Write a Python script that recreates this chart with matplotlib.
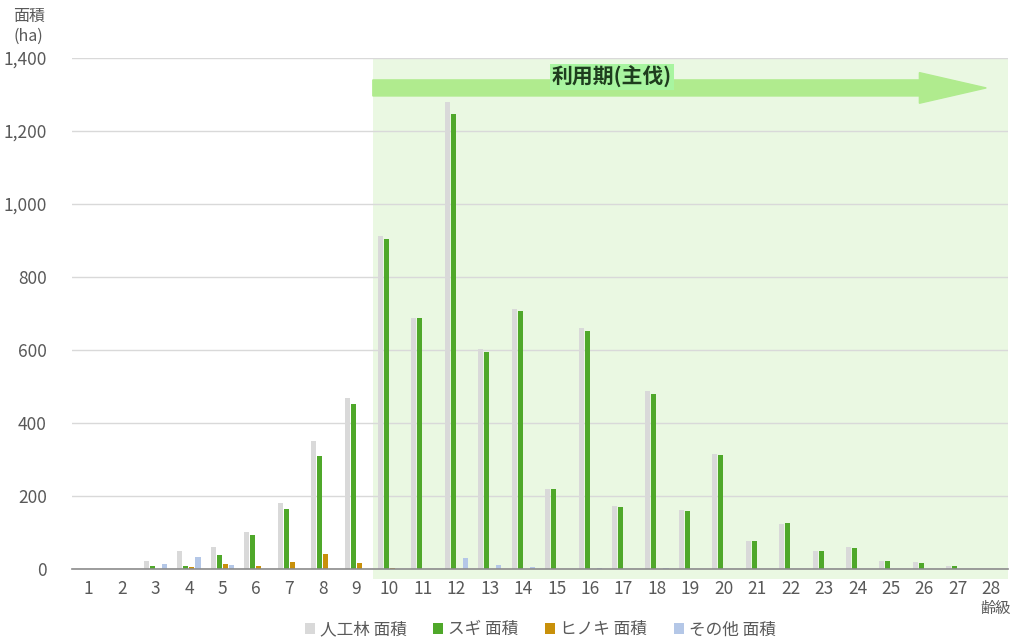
import matplotlib.pyplot as plt
import numpy as np
from matplotlib.patches import Rectangle, FancyArrow

plt.rcParams['font.family'] = ['Noto Sans CJK JP', 'DejaVu Sans']

# age classes (齢級)
classes = list(range(1, 29))

# areas in ha
jinkorin = [0, 0, 22, 49, 60, 101, 181, 350, 468, 912, 688, 1280, 603, 712,
            219, 660, 172, 488, 162, 315, 77, 123, 49, 60, 22, 19, 8, 0]
sugi = [0, 0, 8, 8, 38, 92, 164, 310, 452, 904, 688, 1247, 594, 707,
        219, 652, 170, 479, 159, 312, 77, 126, 49, 58, 22, 17, 8, 0]
hinoki = [0, 0, 0, 5, 14, 8, 19, 41, 16, 4, 0, 0, 0, 0,
          0, 0, 0, 0, 0, 0, 0, 0, 0, 0, 0, 0, 0, 0]
sonota = [0, 0, 13, 33, 11, 0, 0, 0, 0, 0, 0, 30, 11, 5,
          0, 3, 0, 3, 0, 0, 0, 0, 0, 0, 0, 0, 0, 0]

series = [
    ('人工林 面積', jinkorin, '#d9d9d9'),
    ('スギ 面積', sugi, '#4fa82a'),
    ('ヒノキ 面積', hinoki, '#c8900a'),
    ('その他 面積', sonota, '#b4c7e7'),
]

fig = plt.figure(figsize=(10.11, 6.41), dpi=100)
ax = fig.add_axes([0.0712, 0.1123, 0.9258, 0.7972])

x = np.array(classes)
offsets = [-0.27, -0.09, 0.09, 0.27]
for (name, vals, col), off in zip(series, offsets):
    ax.bar(x + off, vals, width=0.15, color=col, label=name, zorder=3)

ax.set_xlim(0.5, 28.5)
ax.set_ylim(0, 1400)
ax.set_yticks(np.arange(0, 1401, 200))
ax.set_yticklabels([f'{v:,}' for v in range(0, 1401, 200)])
ax.set_xticks(classes)
ax.tick_params(length=0, labelsize=12.5, colors='#595959')
ax.tick_params(axis='x', pad=8)
ax.tick_params(axis='y', pad=18)
ax.grid(axis='y', color='#d9d9d9', linewidth=1, zorder=1)
for s in ['top', 'right', 'left']:
    ax.spines[s].set_visible(False)
ax.spines['bottom'].set_color('#8c8c8c')
ax.spines['bottom'].set_linewidth(1.2)
ax.spines['bottom'].set_zorder(4)

# 利用期 shaded period
ax.add_patch(Rectangle((9.5, -26), 19, 1426, facecolor='#eaf8e2',
                       edgecolor='none', zorder=0, clip_on=False))
ax.add_patch(FancyArrow(9.5, 1318, 16.35, 0, width=44, head_width=84,
                        head_length=2.0, length_includes_head=False,
                        color='#b0eb8e', zorder=2))
ax.text(16.65, 1348, '利用期(主伐)', ha='center', va='center', fontsize=15,
        fontweight='bold', color='#1e3d1e', zorder=5,
        bbox=dict(facecolor='#a8f5a0', edgecolor='none', pad=1.5))

fig.text(0.013, 0.974, '面積', fontsize=11.5, color='#595959', ha='left', va='center')
fig.text(0.013, 0.943, '(ha)', fontsize=11.5, color='#595959', ha='left', va='center')
fig.text(0.985, 0.05, '齢級', fontsize=11, color='#595959', ha='center', va='center')

ax.legend(loc='lower center', bbox_to_anchor=(0.5, -0.165), ncol=4, frameon=False,
          fontsize=12, handlelength=0.6, handleheight=0.6, handletextpad=0.3,
          columnspacing=1.6, labelcolor='#595959')

fig.savefig('out.png', dpi=100)
